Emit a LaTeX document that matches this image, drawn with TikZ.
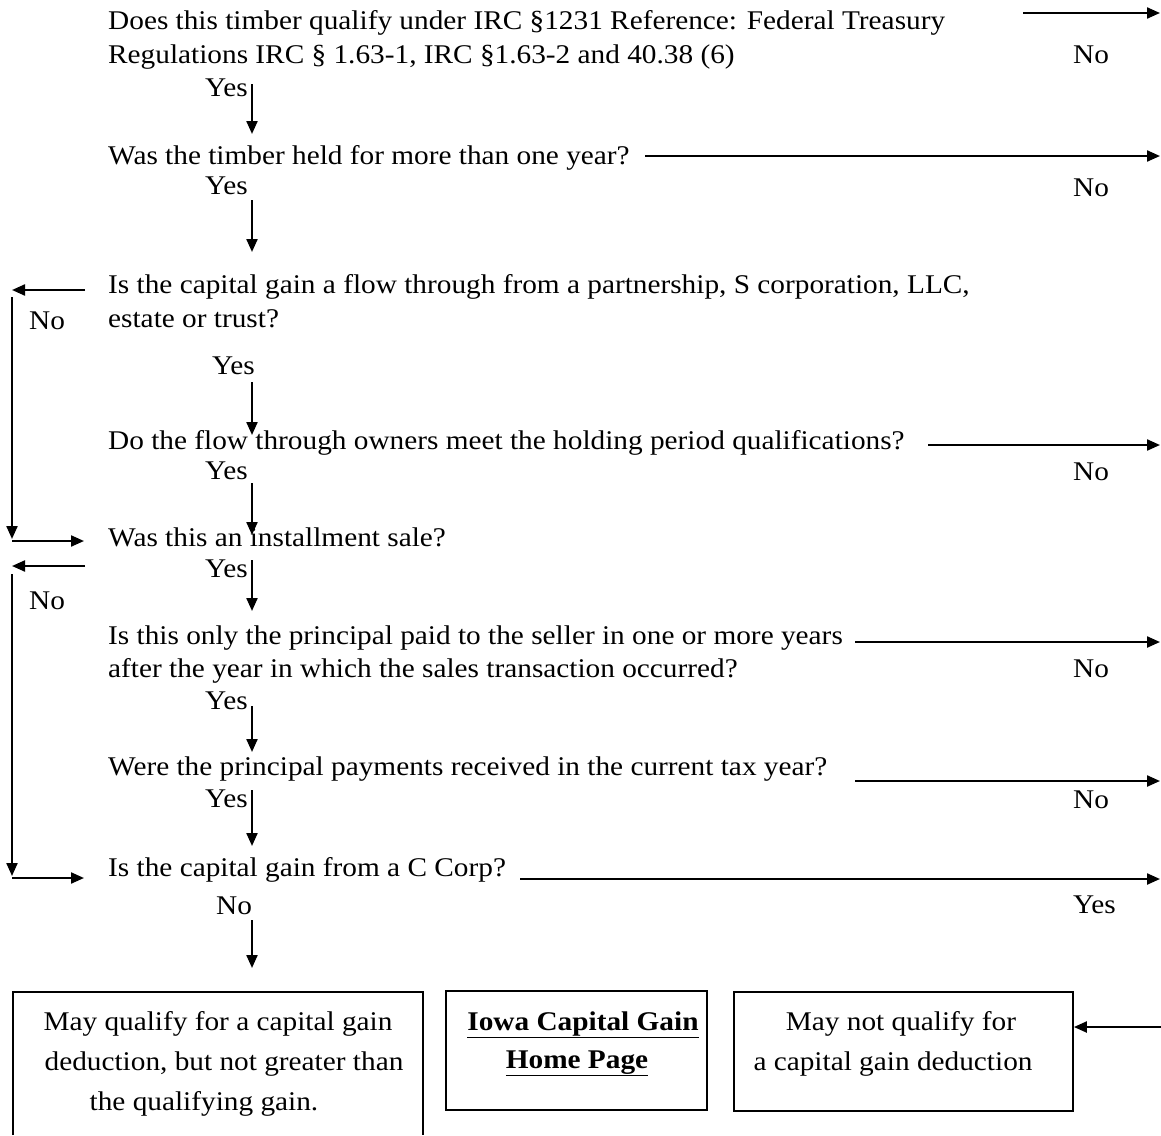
\documentclass[tikz,border=0pt]{standalone}
\usepackage{fontspec}
\setmainfont{Liberation Serif}[FakeStretch=1.085]
\usetikzlibrary{arrows.meta}
\begin{document}
\begin{tikzpicture}[x=1pt,y=-1pt,
  txt/.style={anchor=base west, inner sep=0pt, font=\fontsize{27}{34}\selectfont},
  ctxt/.style={anchor=base, inner sep=0pt, font=\fontsize{27}{34}\selectfont},
  arr/.style={line width=2.2pt, -{Triangle[length=13pt,width=11pt]}},
  boxline/.style={draw, line width=1.8pt}]
\useasboundingbox (0,0) rectangle (1161,1135);
% questions
\node[txt] (q1a) at (108,29) {Does this timber qualify under IRC §1231 Reference: Federal Treasury};
\node[txt] (q1b) at (108,63) {Regulations IRC § 1.63-1, IRC §1.63-2 and 40.38 (6)};
\node[txt] (q2) at (108,164) {Was the timber held for more than one year?};
\node[txt] (q3a) at (108,293) {Is the capital gain a flow through from a partnership, S corporation, LLC,};
\node[txt] (q3b) at (108,327) {estate or trust?};
\node[txt] (q4) at (108,449) {Do the flow through owners meet the holding period qualifications?};
\node[txt] (q5) at (108,546) {Was this an installment sale?};
\node[txt] (q6a) at (108,644) {Is this only the principal paid to the seller in one or more years};
\node[txt] (q6b) at (108,677) {after the year in which the sales transaction occurred?};
\node[txt] (q7) at (108,775) {Were the principal payments received in the current tax year?};
\node[txt] (q8) at (108,876) {Is the capital gain from a C Corp?};
% yes/no labels under questions
\node[txt] (y1) at (205,96) {Yes};
\node[txt] (y2) at (205,194) {Yes};
\node[txt] (y3) at (212,374) {Yes};
\node[txt] (y4) at (205,479) {Yes};
\node[txt] (y5) at (205,577) {Yes};
\node[txt] (y6) at (205,709) {Yes};
\node[txt] (y7) at (205,807) {Yes};
\node[txt] (n8) at (216,914) {No};
% right labels
\node[txt] (rn1) at (1073,63) {No};
\node[txt] (rn2) at (1073,196) {No};
\node[txt] (rn4) at (1073,480) {No};
\node[txt] (rn6) at (1073,677) {No};
\node[txt] (rn7) at (1073,808) {No};
\node[txt] (ry8) at (1073,913) {Yes};
% left labels
\node[txt] (ln3) at (29,329) {No};
\node[txt] (ln5) at (29,609) {No};
% coordinates
\coordinate (r1s) at (1023,13);  \coordinate (r1e) at (1160,13);
\coordinate (r2s) at (645,156);  \coordinate (r2e) at (1160,156);
\coordinate (r4s) at (928,445);  \coordinate (r4e) at (1160,445);
\coordinate (r6s) at (855,642);  \coordinate (r6e) at (1160,642);
\coordinate (r7s) at (855,781);  \coordinate (r7e) at (1160,781);
\coordinate (r8s) at (520,879);  \coordinate (r8e) at (1160,879);
\coordinate (rbs) at (1161,1027);
% down arrows
\coordinate (d1s) at (252,84);  \coordinate (d1e) at (252,134);
\coordinate (d2s) at (252,200); \coordinate (d2e) at (252,252);
\coordinate (d3s) at (252,382); \coordinate (d3e) at (252,435);
\coordinate (d4s) at (252,483); \coordinate (d4e) at (252,535);
\coordinate (d5s) at (252,560); \coordinate (d5e) at (252,611);
\coordinate (d6s) at (252,706); \coordinate (d6e) at (252,752);
\coordinate (d7s) at (252,790); \coordinate (d7e) at (252,846);
\coordinate (d8s) at (252,920); \coordinate (d8e) at (252,968);
\foreach \i in {1,...,8} {\draw[arr] (d\i s) -- (d\i e);}
\foreach \i in {1,2,4,6,7,8} {\draw[arr] (r\i s) -- (r\i e);}
% left loops
\coordinate (l3a) at (85,290); \coordinate (l3b) at (12,290);
\coordinate (l3c) at (12,297); \coordinate (l3d) at (12,539);
\coordinate (l3e) at (84,541);
\draw[arr] (l3a) -- (l3b);
\draw[arr] (l3c) -- (l3d);
\draw[arr] (l3b |- l3e) -- (l3e);
\coordinate (l5a) at (85,566); \coordinate (l5b) at (12,566);
\coordinate (l5c) at (12,574); \coordinate (l5d) at (12,876);
\coordinate (l5e) at (84,878);
\draw[arr] (l5a) -- (l5b);
\draw[arr] (l5c) -- (l5d);
\draw[arr] (l5b |- l5e) -- (l5e);
% boxes
\draw[boxline] (13,1135) -- (13,992) -- (423,992) -- (423,1135);
\node[boxline, inner sep=0pt, minimum width=261pt, minimum height=119pt] (b2) at (576.5,1050.5) {};
\node[boxline, inner sep=0pt, minimum width=339pt, minimum height=119pt] (b3) at (903.5,1051.5) {};
\node[ctxt] (b1l1) at (218,1030) {May qualify for a capital gain};
\node[ctxt] (b1l2) at (224,1070) {deduction, but not greater than};
\node[ctxt] (b1l3) at (204,1110) {the qualifying gain.};
\node[ctxt] (b2l1) at (583,1030) {\textbf{\underline{Iowa Capital Gain}}};
\node[ctxt] (b2l2) at (577,1068) {\textbf{\underline{Home Page}}};
\node[ctxt] (b3l1) at (901,1030) {May not qualify for};
\node[ctxt] (b3l2) at (893,1070) {a capital gain deduction};
\draw[arr] (rbs) -- (b3.east |- rbs);
\end{tikzpicture}
\end{document}
